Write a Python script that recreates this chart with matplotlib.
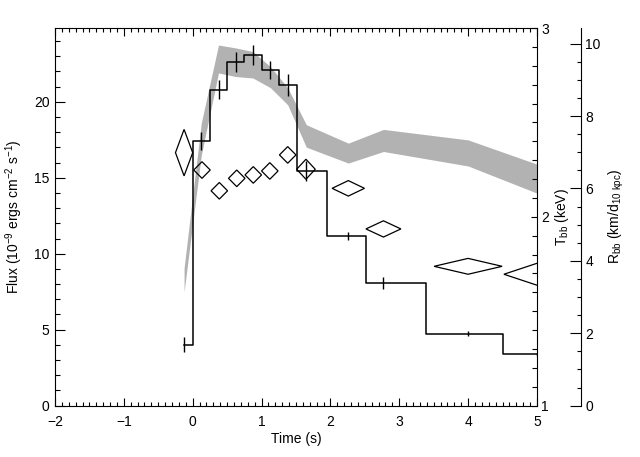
import numpy as np
import matplotlib
matplotlib.use('Agg')
import matplotlib.pyplot as plt
from matplotlib.ticker import MultipleLocator
from matplotlib.patches import Polygon

plt.rcParams['font.family'] = ['Liberation Sans', 'DejaVu Sans']
plt.rcParams['mathtext.default'] = 'regular'
plt.rcParams['font.size'] = 10

# flux light curve (bin centres, flux, 1-sigma error)
flux_t = [-0.125, 0.125, 0.375, 0.625, 0.875, 1.13, 1.38, 1.65, 2.26, 2.77, 4.0, 5.0]
flux = [4.0, 17.4, 20.8, 22.6, 23.07, 22.1, 21.1, 15.44, 11.18, 8.09, 4.74, 3.38]
flux_err = [0.5, 0.6, 0.6, 0.65, 0.65, 0.6, 0.7, 0.65, 0.25, 0.4, 0.15, 0.1]

# blackbody temperature (keV) with errors in time and T
kt_t = [-0.125, 0.135, 0.387, 0.64, 0.88, 1.12, 1.38, 1.645, 2.26, 2.77, 4.0, 5.0]
kt = [2.34, 2.248, 2.138, 2.204, 2.222, 2.243, 2.328, 2.252, 2.151, 1.936, 1.738, 1.696]
kt_dt = [0.125, 0.12, 0.12, 0.12, 0.12, 0.12, 0.12, 0.135, 0.235, 0.254, 0.494, 0.48]
kt_err = [0.123, 0.044, 0.044, 0.044, 0.044, 0.044, 0.044, 0.053, 0.041, 0.043, 0.042, 0.058]

# blackbody radius band (lower / upper)
rbb_t = [-0.125, 0.125, 0.375, 0.625, 0.875, 1.13, 1.38, 1.65, 2.26, 2.77, 4.0, 5.0]
rbb_lo = [3.14, 6.92, 9.19, 9.09, 9.05, 8.78, 8.31, 7.14, 6.70, 7.02, 6.62, 5.87]
rbb_hi = [3.80, 7.81, 9.96, 9.88, 9.78, 9.36, 8.78, 7.76, 7.25, 7.63, 7.34, 6.67]

fig = plt.figure(figsize=(6.4, 4.57), dpi=100)
ax = fig.add_axes([0.0859, 0.1123, 0.7531, 0.8264])
ax2 = ax.twinx()
ax3 = ax.twinx()

# draw order: band below, diamonds, then light curve
ax3.set_zorder(1)
ax2.set_zorder(2)
ax.set_zorder(3)
for a in (ax, ax2, ax3):
    a.patch.set_visible(False)

# gray radius band
ax3.fill_between(rbb_t, rbb_lo, rbb_hi, color='#b2b2b2', lw=0)
ax3.set_ylim(0, 10.43)
ax3.spines['right'].set_position(('axes', 1.0913))
for s in ('left', 'top', 'bottom'):
    ax3.spines[s].set_visible(False)
ax3.spines['right'].set_linewidth(0.8)
ax3.yaxis.set_major_locator(MultipleLocator(2))
ax3.yaxis.set_minor_locator(MultipleLocator(0.5))
ax3.tick_params(axis='y', which='major', direction='in', length=8, width=0.8, pad=3)
ax3.tick_params(axis='y', which='minor', direction='in', length=3, width=0.8)
ax3.set_ylabel('R$_{bb}$ (km/d$_{10\\ kpc}$)')
ax3.yaxis.set_label_coords(1.144, 0.5)

# temperature diamonds
for t, k, dt, dk in zip(kt_t, kt, kt_dt, kt_err):
    ax2.add_patch(Polygon([(t - dt, k), (t, k + dk), (t + dt, k), (t, k - dk)],
                          closed=True, fill=False, ec='black', lw=0.9))
ax2.set_ylim(1, 3)
for s in ('left', 'top', 'bottom'):
    ax2.spines[s].set_visible(False)
ax2.spines['right'].set_linewidth(0.8)
ax2.yaxis.set_major_locator(MultipleLocator(1))
ax2.yaxis.set_minor_locator(MultipleLocator(0.1))
ax2.tick_params(axis='y', which='major', direction='in', length=4.5, width=0.8, pad=3)
ax2.tick_params(axis='y', which='minor', direction='in', length=3.5, width=0.8)
ax2.set_ylabel('T$_{bb}$ (keV)')
ax2.yaxis.set_label_coords(1.034, 0.5)

# flux light curve
ax.step(flux_t, flux, where='mid', color='black', lw=1.1)
ax.errorbar(flux_t, flux, yerr=flux_err, fmt='none', ecolor='black', elinewidth=1.0)
ax.set_xlim(-2, 5)
ax.set_ylim(0, 24.85)
ax.spines['right'].set_visible(False)
for s in ('left', 'top', 'bottom'):
    ax.spines[s].set_linewidth(0.8)
ax.xaxis.set_major_locator(MultipleLocator(1))
ax.xaxis.set_minor_locator(MultipleLocator(0.1))
ax.yaxis.set_major_locator(MultipleLocator(5))
ax.yaxis.set_minor_locator(MultipleLocator(1))
ax.tick_params(axis='x', which='both', direction='in', top=True, width=0.8)
ax.tick_params(axis='x', which='major', length=6, pad=7)
ax.tick_params(axis='x', which='minor', length=3)
ax.tick_params(axis='y', which='both', direction='in', right=False, width=0.8)
ax.tick_params(axis='y', which='major', length=7, pad=4)
ax.tick_params(axis='y', which='minor', length=3.5)
ax.set_xlabel('Time (s)')
ax.xaxis.set_label_coords(0.5, -0.07)
ax.set_ylabel('Flux (10$^{-9}$ ergs cm$^{-2}$ s$^{-1}$)')
ax.yaxis.set_label_coords(-0.0622, 0.5)

fig.savefig('out.png', dpi=100, facecolor='white')
